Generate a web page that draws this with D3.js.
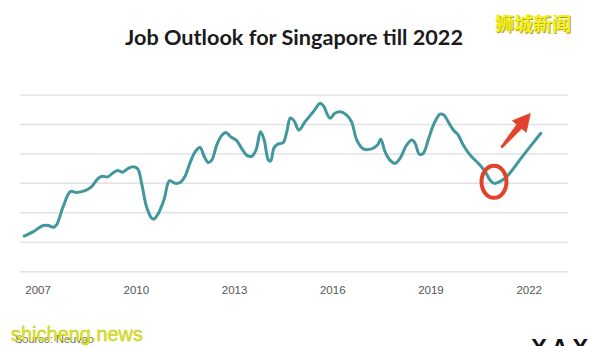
<!DOCTYPE html>
<html>
<head>
<meta charset="utf-8">
<script src="https://cdn.jsdelivr.net/npm/d3@7/dist/d3.min.js"></script>
<style>
  html, body { margin: 0; padding: 0; background: #ffffff; }
  svg { display: block; }
</style>
</head>
<body>
<svg id="chart" width="590" height="346"></svg>
<script>
// Job outlook index, sampled through time (decimal years)
const years = [2006.59, 2006.87, 2007.17, 2007.33, 2007.48, 2007.58, 2007.78, 2008.00, 2008.19, 2008.45,
  2008.65, 2008.85, 2008.98, 2009.14, 2009.31, 2009.45, 2009.59, 2009.77, 2009.92, 2010.06,
  2010.18, 2010.33, 2010.49, 2010.56, 2010.69, 2010.86, 2011.03, 2011.20, 2011.37, 2011.50,
  2011.65, 2011.81, 2011.96, 2012.09, 2012.21, 2012.32, 2012.47, 2012.62, 2012.75, 2012.90,
  2013.08, 2013.23, 2013.39, 2013.54, 2013.67, 2013.81, 2013.92, 2014.05, 2014.12, 2014.22,
  2014.35, 2014.50, 2014.61, 2014.72, 2014.83, 2014.98, 2015.17, 2015.42, 2015.63, 2015.73,
  2015.93, 2016.08, 2016.24, 2016.44, 2016.59, 2016.75, 2016.95, 2017.20, 2017.38, 2017.48,
  2017.61, 2017.76, 2017.92, 2018.07, 2018.27, 2018.43, 2018.53, 2018.66, 2018.78, 2018.93,
  2019.09, 2019.29, 2019.41, 2019.54, 2019.70, 2019.85, 2020.00, 2020.21, 2020.46, 2020.67,
  2020.82, 2020.94, 2021.12, 2021.33, 2021.84, 2022.37];

const outlook = [12.1, 13.6, 15.7, 15.7, 15.1, 15.9, 22.1, 27.2, 26.9, 27.5,
  28.9, 31.7, 32.4, 32.2, 33.6, 34.4, 33.8, 35.1, 35.6, 34.9,
  29.8, 22.0, 18.1, 17.9, 19.8, 24.4, 30.9, 30.0, 30.4, 32.3,
  36.8, 40.7, 42.2, 39.1, 37.1, 37.9, 43.0, 46.2, 47.3, 45.8,
  44.5, 41.9, 39.5, 39.2, 41.3, 47.5, 44.7, 37.9, 37.6, 42.0,
  43.4, 43.8, 47.5, 52.2, 51.3, 48.1, 50.9, 54.3, 57.2, 56.3,
  52.1, 53.8, 54.3, 53.2, 50.9, 44.7, 41.7, 41.7, 43.0, 45.0,
  40.8, 37.9, 36.8, 38.5, 43.0, 44.7, 43.6, 39.9, 40.2, 44.7,
  49.8, 53.5, 53.2, 50.9, 48.1, 46.4, 43.0, 39.6, 36.8, 34.0,
  31.1, 30.0, 30.6, 32.3, 39.6, 47.0];

const tickYears = [2007, 2010, 2013, 2016, 2019, 2022];
const gridValues = [0, 10, 20, 30, 40, 50, 60];

// Recovery arrow, from/to in data units
const arrowFrom = [2021.17, 42.2];
const arrowTo = [2022.05, 53.7];

const title = "Job Outlook for Singapore till 2022";
const source = "Source: Neuvoo";

const svg = d3.select("#chart");
const W = 590, H = 346;
const gridLeft = 20, gridRight = 568;

const x = d3.scaleLinear().domain([2007, 2022]).range([37.6, 528.7]);
const y = d3.scaleLinear().domain([0, 60]).range([271.7, 95]);

svg.append("rect").attr("width", W).attr("height", H).attr("fill", "#ffffff");

// Title
svg.append("text")
  .attr("x", 294).attr("y", 45)
  .attr("text-anchor", "middle")
  .attr("font-family", "Lato, 'Open Sans', sans-serif")
  .attr("font-weight", 700)
  .attr("font-size", 21)
  .attr("fill", "#1b1b1b")
  .attr("textLength", 338)
  .attr("lengthAdjust", "spacingAndGlyphs")
  .text(title);

// Horizontal gridlines
svg.append("g").selectAll("line")
  .data(gridValues)
  .join("line")
  .attr("x1", gridLeft).attr("x2", gridRight)
  .attr("y1", d => y(d)).attr("y2", d => y(d))
  .attr("stroke", "#e2e2e2")
  .attr("stroke-width", 1.5);

// Year axis
const axis = svg.append("g")
  .attr("transform", `translate(0, ${y(0)})`)
  .call(d3.axisBottom(x).tickValues(tickYears).tickFormat(d3.format("d")).tickSize(0).tickPadding(22));
axis.select(".domain").remove();
axis.selectAll("text")
  .attr("dy", 0)
  .attr("font-family", "'Liberation Sans', Arial, sans-serif")
  .attr("font-size", 11.5)
  .attr("fill", "#555555");

// Outlook line
const pts = years.map((yr, i) => [yr, outlook[i]]);
const line = d3.line()
  .x(d => x(d[0]))
  .y(d => y(d[1]))
  .curve(d3.curveCatmullRom.alpha(0.5));

svg.append("path")
  .datum(pts)
  .attr("d", line)
  .attr("fill", "none")
  .attr("stroke", "#41979b")
  .attr("stroke-width", 3)
  .attr("stroke-linejoin", "round")
  .attr("stroke-linecap", "round");

// Circle around the recent low
const recent = pts.filter(d => d[0] > 2020);
const low = recent.reduce((a, b) => (b[1] < a[1] ? b : a));
svg.append("ellipse")
  .attr("cx", x(low[0]))
  .attr("cy", y(low[1]) - 1.5)
  .attr("rx", 12.5)
  .attr("ry", 16)
  .attr("fill", "none")
  .attr("stroke", "#e2412b")
  .attr("stroke-width", 4);

// Upward arrow
(function drawArrow() {
  const x0 = x(arrowFrom[0]), y0 = y(arrowFrom[1]);
  const x1 = x(arrowTo[0]), y1 = y(arrowTo[1]);
  const dx = x1 - x0, dy = y1 - y0;
  const len = Math.hypot(dx, dy);
  const ux = dx / len, uy = dy / len;
  const nx = -uy, ny = ux;
  const headLen = 17, headHalf = 9, tailHalf = 1, neckHalf = 3.2;
  const bx = x1 - ux * headLen, by = y1 - uy * headLen;
  const poly = [
    [x0 + nx * tailHalf, y0 + ny * tailHalf],
    [bx + nx * neckHalf, by + ny * neckHalf],
    [bx + nx * headHalf, by + ny * headHalf],
    [x1, y1],
    [bx - nx * headHalf, by - ny * headHalf],
    [bx - nx * neckHalf, by - ny * neckHalf],
    [x0 - nx * tailHalf, y0 - ny * tailHalf]
  ];
  svg.append("path")
    .attr("d", "M" + poly.map(p => p.join(",")).join("L") + "Z")
    .attr("fill", "#e2412b")
    .attr("stroke", "#e2412b")
    .attr("stroke-width", 0.8)
    .attr("stroke-linejoin", "round");
})();

// Source note
svg.append("text")
  .attr("x", 15).attr("y", 343)
  .attr("font-family", "'Liberation Sans', Arial, sans-serif")
  .attr("font-size", 11)
  .attr("fill", "#6a6a6a")
  .text(source);

// Site marks
svg.append("text")
  .attr("x", 11).attr("y", 341)
  .attr("font-family", "'Liberation Sans', Arial, sans-serif")
  .attr("font-size", 20)
  .attr("fill", "#e3e81a")
  .attr("stroke", "#b8bd10")
  .attr("stroke-width", 0.4)
  .attr("textLength", 132)
  .text("shicheng.news");

const cn = svg.append("g").attr("font-family", "'Noto Sans CJK SC', sans-serif")
  .attr("font-size", 19).attr("font-weight", 700).attr("text-anchor", "middle");
cn.append("text").attr("x", 534).attr("y", 32).attr("fill", "#a8a21a").text("狮城新闻");
cn.append("text").attr("x", 533).attr("y", 31).attr("fill", "#f4f01c").text("狮城新闻");

svg.append("text")
  .attr("x", 531).attr("y", 356)
  .attr("font-family", "'Liberation Sans', Arial, sans-serif")
  .attr("font-weight", 700)
  .attr("font-size", 24)
  .attr("letter-spacing", 4)
  .attr("fill", "#111111")
  .text("XAX");
</script>
</body>
</html>
